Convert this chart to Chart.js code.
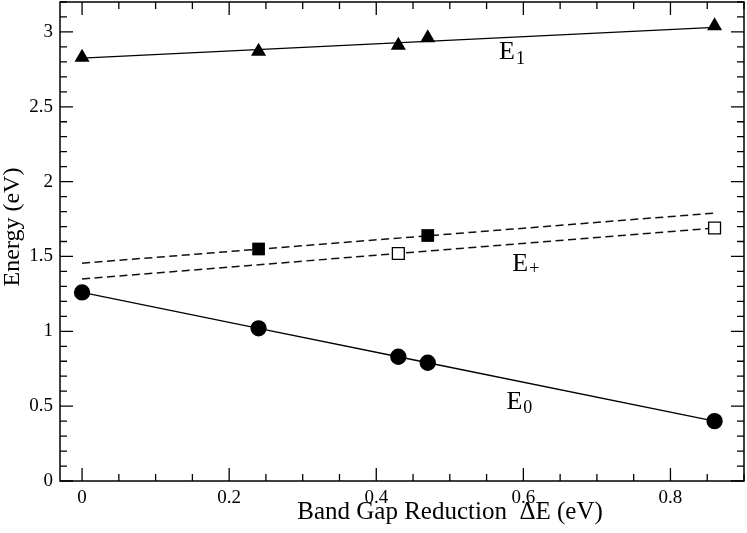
<!DOCTYPE html>
<html>
<head>
<meta charset="utf-8">
<script src="https://cdn.jsdelivr.net/npm/chart.js@4.4.1/dist/chart.umd.min.js"></script>
<style>
  body { margin: 0; background: #fff; }
  #wrap { width: 747px; height: 533px; }
</style>
</head>
<body>
<div id="wrap"><canvas id="myChart" width="747" height="533"></canvas></div>
<script>
// Data
const xVals = [0, 0.24, 0.43, 0.47, 0.86];
const e1Vals = [2.83, 2.87, 2.91, 2.96, 3.04];
const e0Vals = [1.26, 1.02, 0.83, 0.79, 0.40];

const filledX = [0.24, 0.47];
const filledY = [1.55, 1.64];
const openX = [0.43, 0.86];
const openY = [1.52, 1.69];

// fitted lines (end points)
const fitX = [0, 0.86];
const e1Fit = [2.825, 3.03];
const upperFit = [1.455, 1.79];
const lowerFit = [1.35, 1.69];

const xTicks = [0, 0.2, 0.4, 0.6, 0.8];
const yTicks = [0, 0.5, 1, 1.5, 2, 2.5, 3];

const serif = '"Liberation Serif", "DejaVu Serif", serif';

function pts(xs, ys) {
	return xs.map(function(x, i) { return {x: x, y: ys[i]}; });
}

// ticks drawn inwards on all four sides, plus frame, axis titles and curve labels
const framePlugin = {
	id: 'frame',
	afterDraw(chart) {
		const ctx = chart.ctx;
		const a = chart.chartArea;
		const xs = chart.scales.x, ys = chart.scales.y;
		ctx.save();
		ctx.strokeStyle = '#000';
		ctx.lineWidth = 1.5;
		ctx.strokeRect(a.left, a.top, a.right - a.left, a.bottom - a.top);

		ctx.lineWidth = 1.3;
		ctx.beginPath();
		for (let i = 0; i <= 18; i++) {
			const v = i * 0.05;
			const major = i % 4 === 0;
			const len = major ? 13 : 7;
			const px = xs.getPixelForValue(v);
			if (px < a.left || px > a.right) continue;
			ctx.moveTo(px, a.bottom); ctx.lineTo(px, a.bottom - len);
			ctx.moveTo(px, a.top); ctx.lineTo(px, a.top + len);
		}
		for (let i = 0; i <= 32; i++) {
			const v = i * 0.1;
			const major = i % 5 === 0;
			const len = major ? 13 : 7;
			const py = ys.getPixelForValue(v);
			if (py < a.top - 0.5 || py > a.bottom + 0.5) continue;
			ctx.moveTo(a.left, py); ctx.lineTo(a.left + len, py);
			ctx.moveTo(a.right, py); ctx.lineTo(a.right - len, py);
		}
		ctx.stroke();

		ctx.fillStyle = '#000';
		ctx.font = '25px ' + serif;
		ctx.textAlign = 'center';
		ctx.textBaseline = 'alphabetic';
		ctx.fillText('Band Gap Reduction  \u0394E (eV)', 450, 519);

		ctx.font = '24px ' + serif;
		ctx.save();
		ctx.translate(19, 227);
		ctx.rotate(-Math.PI / 2);
		ctx.fillText('Energy (eV)', 0, 0);
		ctx.restore();

		ctx.textAlign = 'left';
		const labels = [
			{x: 0.567, y: 2.82, sub: '1', dy: 5},
			{x: 0.585, y: 1.404, sub: '+', dy: 3},
			{x: 0.577, y: 0.481, sub: '0', dy: 4}
		];
		labels.forEach(function(l) {
			const px = xs.getPixelForValue(l.x);
			const py = ys.getPixelForValue(l.y);
			ctx.font = '26px ' + serif;
			ctx.fillText('E', px, py);
			const w = ctx.measureText('E').width;
			ctx.font = '18px ' + serif;
			ctx.fillText(l.sub, px + w + 1, py + l.dy);
		});
		ctx.restore();
	}
};

let chart = new Chart('myChart', {
	type: 'scatter',
	data: {
		datasets: [{
			label: 'E1',
			data: pts(xVals, e1Vals),
			pointStyle: 'triangle',
			pointRadius: 8.7,
			backgroundColor: '#000',
			borderColor: '#000',
			borderWidth: 0,
			order: 1
		}, {
			label: 'E0',
			data: pts(xVals, e0Vals),
			showLine: true,
			pointStyle: 'circle',
			pointRadius: 7.5,
			backgroundColor: '#000',
			borderColor: '#000',
			borderWidth: 1.3,
			order: 1
		}, {
			label: 'E+ filled',
			data: pts(filledX, filledY),
			pointStyle: 'rect',
			pointRadius: 9,
			backgroundColor: '#000',
			borderColor: '#000',
			borderWidth: 0,
			order: 1
		}, {
			label: 'E+ open',
			data: pts(openX, openY),
			pointStyle: 'rect',
			pointRadius: 8.4,
			backgroundColor: '#fff',
			borderColor: '#000',
			borderWidth: 1.3,
			order: 1
		}, {
			label: 'E1 fit',
			data: pts(fitX, e1Fit),
			showLine: true,
			pointRadius: 0,
			borderColor: '#000',
			borderWidth: 1.3,
			order: 2
		}, {
			label: 'upper fit',
			data: pts(fitX, upperFit),
			showLine: true,
			pointRadius: 0,
			borderColor: '#111',
			borderWidth: 1.5,
			borderDash: [8, 4.5],
			order: 2
		}, {
			label: 'lower fit',
			data: pts(fitX, lowerFit),
			showLine: true,
			pointRadius: 0,
			borderColor: '#111',
			borderWidth: 1.5,
			borderDash: [8, 4.5],
			order: 2
		}]
	},
	options: {
		responsive: false,
		animation: false,
		layout: { autoPadding: false, padding: { top: 2, right: 3, left: 0, bottom: 0 } },
		scales: {
			x: {
				type: 'linear',
				min: -0.03,
				max: 0.9,
				afterBuildTicks: function(scale) { scale.ticks = xTicks.map(function(v) { return {value: v}; }); },
				afterFit: function(scale) {
					scale.height = 52;
					scale.paddingLeft = 0;
					scale.paddingRight = 0;
				},
				grid: { display: false, drawTicks: false },
				border: { display: false },
				ticks: {
					padding: 6,
					color: '#000',
					font: { family: serif, size: 19 },
					callback: function(v) { return String(v); }
				}
			},
			y: {
				type: 'linear',
				min: 0,
				max: 3.2,
				afterBuildTicks: function(scale) { scale.ticks = yTicks.map(function(v) { return {value: v}; }); },
				afterFit: function(scale) {
					scale.width = 60;
					scale.paddingTop = 0;
					scale.paddingBottom = 0;
				},
				grid: { display: false, drawTicks: false },
				border: { display: false },
				ticks: {
					padding: 7,
					color: '#000',
					font: { family: serif, size: 19 },
					callback: function(v) { return String(v); }
				}
			}
		},
		plugins: {
			legend: { display: false },
			tooltip: { enabled: false }
		}
	},
	plugins: [framePlugin]
});
</script>
</body>
</html>
